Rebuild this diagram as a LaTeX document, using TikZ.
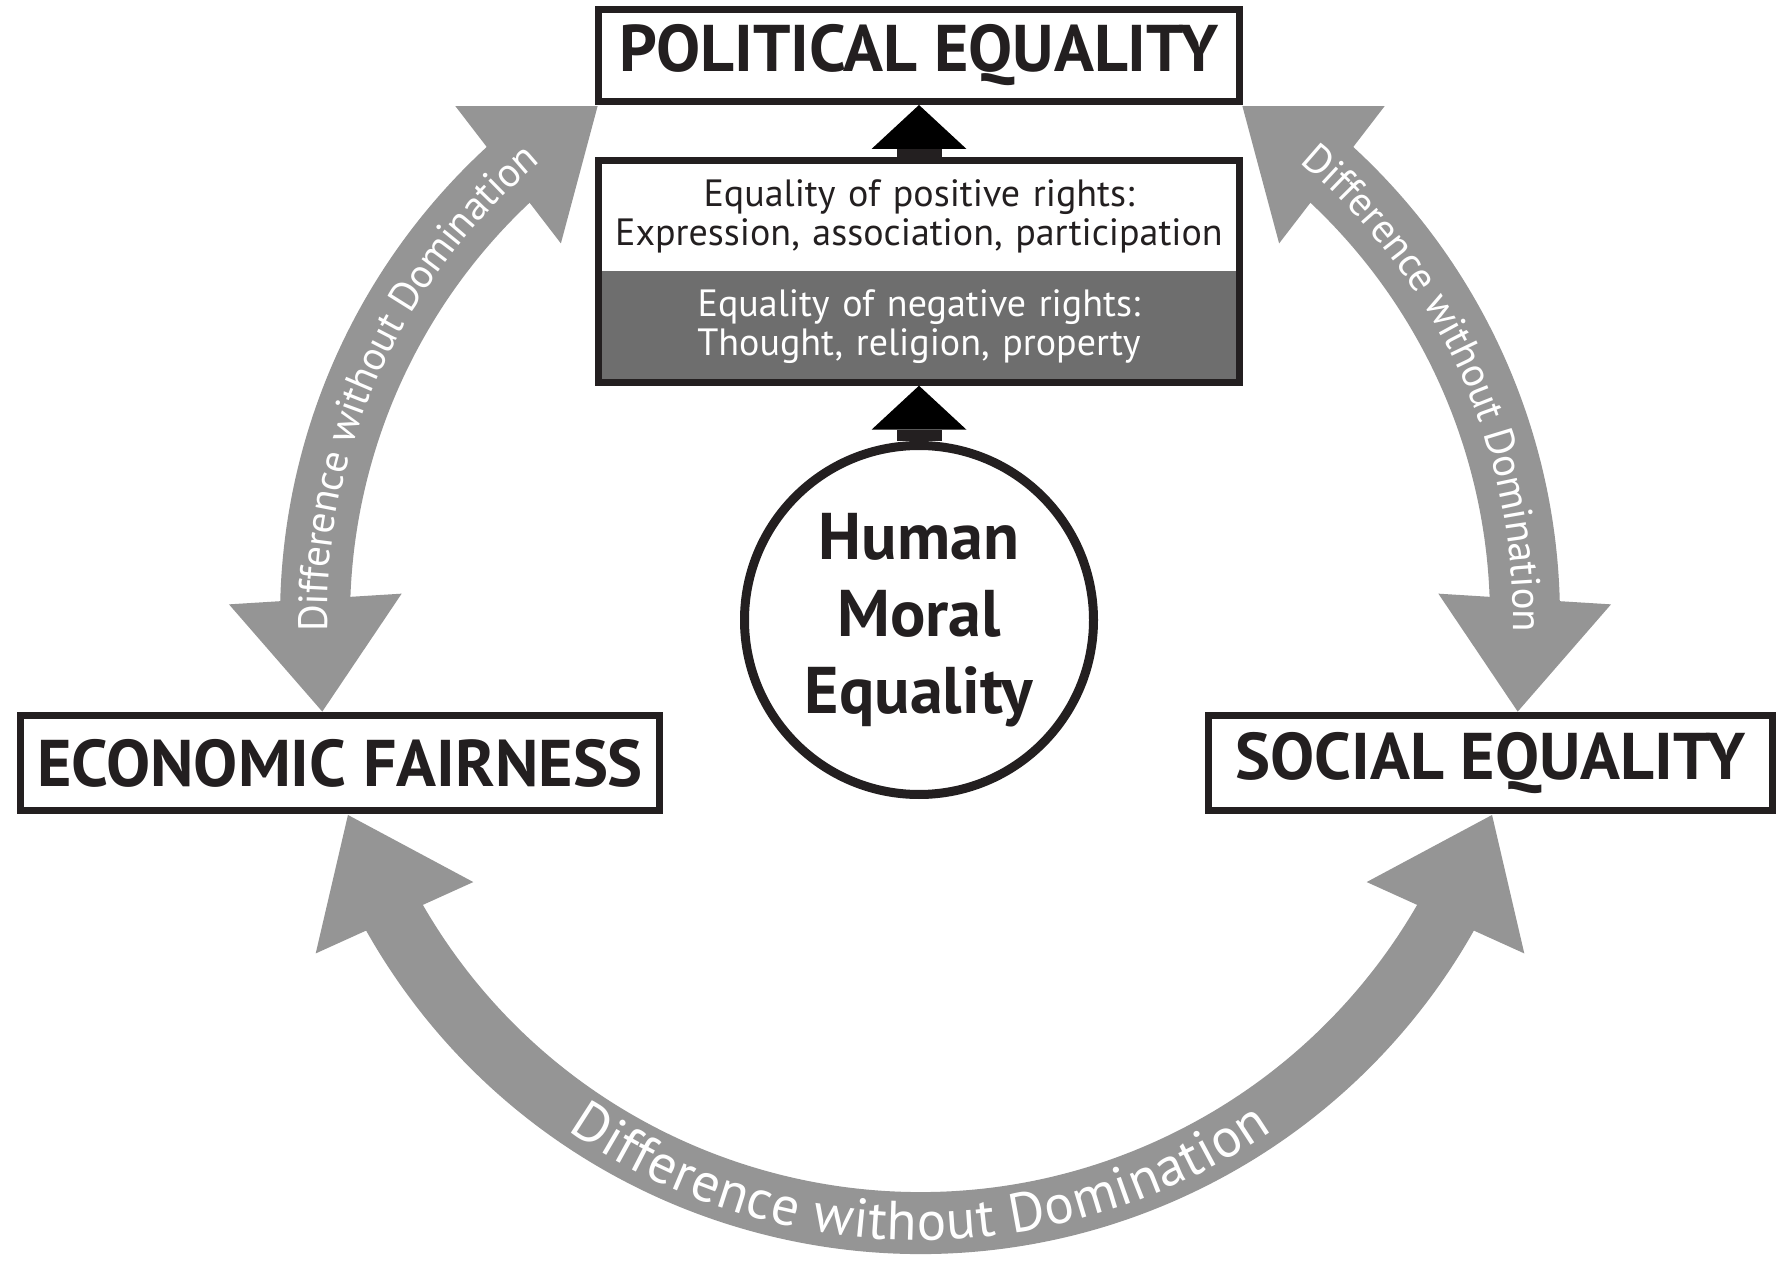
\documentclass[tikz,border=0pt]{standalone}
\usepackage{fontspec}
\setmainfont{PT Sans}
\usetikzlibrary{arrows.meta,shapes.multipart,decorations.text,calc,backgrounds}
\definecolor{ink}{RGB}{35,31,32}
\definecolor{arcgray}{RGB}{149,149,149}
\definecolor{bandgray}{RGB}{110,110,110}
\newcommand\boxfont{\bfseries\fontsize{33}{33}\selectfont}
\newcommand\rightsfont{\fontsize{19}{19.5}\selectfont}
\newcommand\circfont{\bfseries\fontsize{33}{38.5}\selectfont}
\newcommand\sidefont{\fontsize{20.5}{20.5}\selectfont}
\newcommand\bottomfont{\fontsize{27.5}{27.5}\selectfont}
% gray arrow head: #1 = angle of tip, #2 = angle of head base (on the ring)
\newcommand\graytip[2]{%
  \path (O) ++(#1:605) coordinate (tipT) (O) ++(#2:605) coordinate (tipB);
  \fill[arcgray] (tipT) -- ($(tipB)!43.25pt!90:(tipT)$) -- ($(tipB)!43.25pt!-90:(tipT)$) -- cycle;}
\begin{document}
\begin{tikzpicture}[x=0.5pt,y=0.5pt,
  box/.style={draw=ink, line width=3.5pt, fill=white, inner sep=0pt, text=ink, font=\boxfont},
  arcshaft/.style={draw=arcgray, line width=#1},
  arclabel/.style={decorate, decoration={text along path, text align=center, raise=#1}},
  blackarrow/.style={draw=ink, line width=22.5pt, -{Triangle[width=47.5pt,length=22pt,line width=0pt]}},
]
\useasboundingbox (0,0) rectangle (1778,-1261);

\node[box, minimum width=320.5pt, minimum height=46pt] (pol) at (919,-55.5) {POLITICAL EQUALITY};
\node[draw=ink, line width=3.5pt, rectangle split, rectangle split parts=2,
  rectangle split draw splits=false, rectangle split part fill={white,bandgray},
  text width=315.5pt, align=center, inner xsep=2.5pt, inner ysep=7.5pt, text=ink, font=\rightsfont]
  (rights) at (919,-271.5)
  {Equality of positive rights:\\Expression, association, participation
   \nodepart{two}\color{white}Equality of negative rights:\\Thought, religion, property};
\node[circle, draw=ink, line width=4.5pt, fill=white, minimum size=174.5pt, inner sep=0pt,
  align=center, text=ink, font=\circfont] (hme) at (919,-620) {Human\\Moral\\Equality};
\node[box, minimum width=319.5pt, minimum height=47.5pt] (econ) at (340,-763) {ECONOMIC FAIRNESS};
\node[box, minimum width=282pt, minimum height=47.5pt] (soc) at (1490.5,-763) {SOCIAL EQUALITY};

\draw[blackarrow] (rights.north) -- (pol.south);
\draw[blackarrow] (hme.north) -- (rights.south);

\coordinate (O) at ($(hme.center)+(1,2)$);

\begin{scope}[on background layer]
\fill[white] (0,0) rectangle (1778,-1261);
% econ <-> political
\draw[arcshaft=35pt] (O) ++(179.15:605) arc[start angle=179.15, end angle=131.95, radius=605];
\graytip{188.9}{178.2}
\graytip{122.2}{132.9}
% political <-> social
\draw[arcshaft=35pt] (O) ++(48.05:605) arc[start angle=48.05, end angle=0.85, radius=605];
\graytip{57.8}{47.1}
\graytip{-8.9}{1.8}
% econ <-> social
\draw[arcshaft=31pt] (O) ++(208.75:605) arc[start angle=208.75, end angle=331.25, radius=605];
\graytip{199}{209.7}
\graytip{341}{330.3}
\end{scope}

\path[arclabel=-6pt, decoration={text={|\sidefont\color{white}|Difference without Domination}}]
  (O) ++(188.9:605) arc[start angle=188.9, end angle=122.2, radius=605];
\path[arclabel=-6pt, decoration={text={|\sidefont\color{white}|Difference without Domination}}]
  (O) ++(57.8:605) arc[start angle=57.8, end angle=-8.9, radius=605];
\path[arclabel=-8.5pt, decoration={text={|\bottomfont\color{white}|Difference without Domination}}]
  (O) ++(199:605) arc[start angle=199, end angle=341, radius=605];
\end{tikzpicture}
\end{document}
